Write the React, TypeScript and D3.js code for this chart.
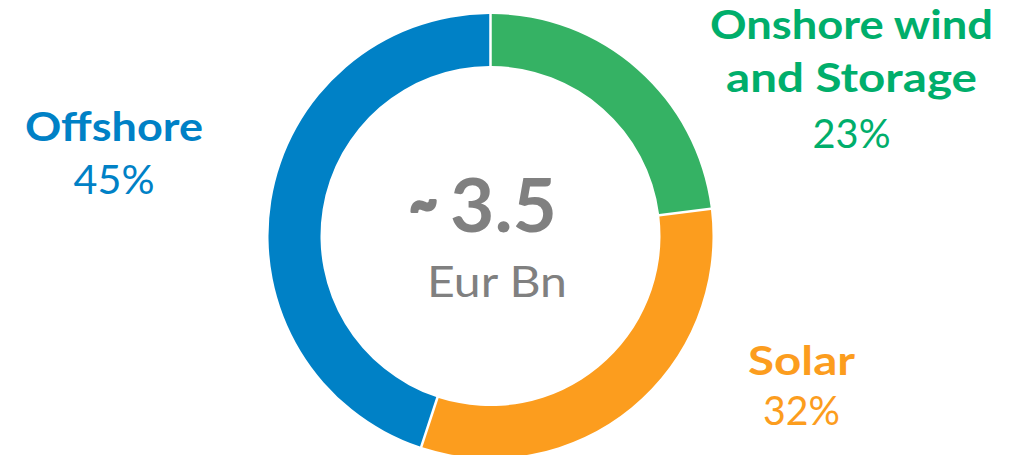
import React from "react";
import * as d3 from "d3";

const categories = ["Onshore wind and Storage", "Solar", "Offshore"];
const shares = [23, 32, 45];
const arcColors = ["#35B264", "#FC9D1E", "#0081C6"];
const labelColors = ["#00AE6B", "#FC9D1E", "#0081C6"];
const labelLines = [["Onshore wind", "and Storage"], ["Solar"], ["Offshore"]];
const pctLabels = ["23%", "32%", "45%"];
const totalPrefix = "~";
const totalValue = "3.5";
const unitLabel = "Eur Bn";

const W = 1023;
const H = 455;
const cx = 490.5;
const cy = 236;
const outerR = 222;
const innerR = 170;
const FONT = "Lato, 'Open Sans', sans-serif";

// label layout (center x, first-line baseline, rendered widths)
const labelPos = [
  { x: 851.5, y: 39, pctY: 148, widths: [283, 251], pctW: 78 },
  { x: 801.5, y: 375, pctY: 425, widths: [107], pctW: 77 },
  { x: 114, y: 141, pctY: 194, widths: [178], pctW: 81 },
];

export default function App() {
  const pie = d3.pie<number>().sort(null).value((d) => d).padAngle(0.009);
  const arcs = pie(shares);
  const arc = d3.arc<d3.PieArcDatum<number>>().innerRadius(innerR).outerRadius(outerR);
  return (
    <svg width={W} height={H} style={{ position: "absolute", left: 0, top: 0, background: "#fff" }} fontFamily={FONT}>
      <g transform={`translate(${cx},${cy})`}>
        {arcs.map((a, i) => (
          <path key={categories[i]} d={arc(a) || ""} fill={arcColors[i]} />
        ))}
      </g>
      {labelPos.map((p, i) => (
        <g key={categories[i]} fill={labelColors[i]} textAnchor="middle">
          {labelLines[i].map((ln, j) => (
            <text key={j} x={p.x} y={p.y + j * 53} fontSize={40} fontWeight={700}
              textLength={p.widths[j]} lengthAdjust="spacingAndGlyphs">
              {ln}
            </text>
          ))}
          <text x={p.x} y={p.pctY} fontSize={41} fontWeight={400} textLength={p.pctW} lengthAdjust="spacingAndGlyphs">
            {pctLabels[i]}
          </text>
        </g>
      ))}
      <text x={423.5} y={222} textAnchor="middle" fontSize={56} fontWeight={900} fill="#808080"
        stroke="#808080" strokeWidth={3} strokeLinejoin="round"
        textLength={28} lengthAdjust="spacingAndGlyphs">
        {totalPrefix}
      </text>
      <text x={503.5} y={232} textAnchor="middle" fontSize={74} fontWeight={700} fill="#808080"
        textLength={107} lengthAdjust="spacingAndGlyphs">
        {totalValue}
      </text>
      <text x={497} y={297} textAnchor="middle" fontSize={42} fontWeight={400} fill="#808080"
        textLength={140} lengthAdjust="spacingAndGlyphs">
        {unitLabel}
      </text>
    </svg>
  );
}
